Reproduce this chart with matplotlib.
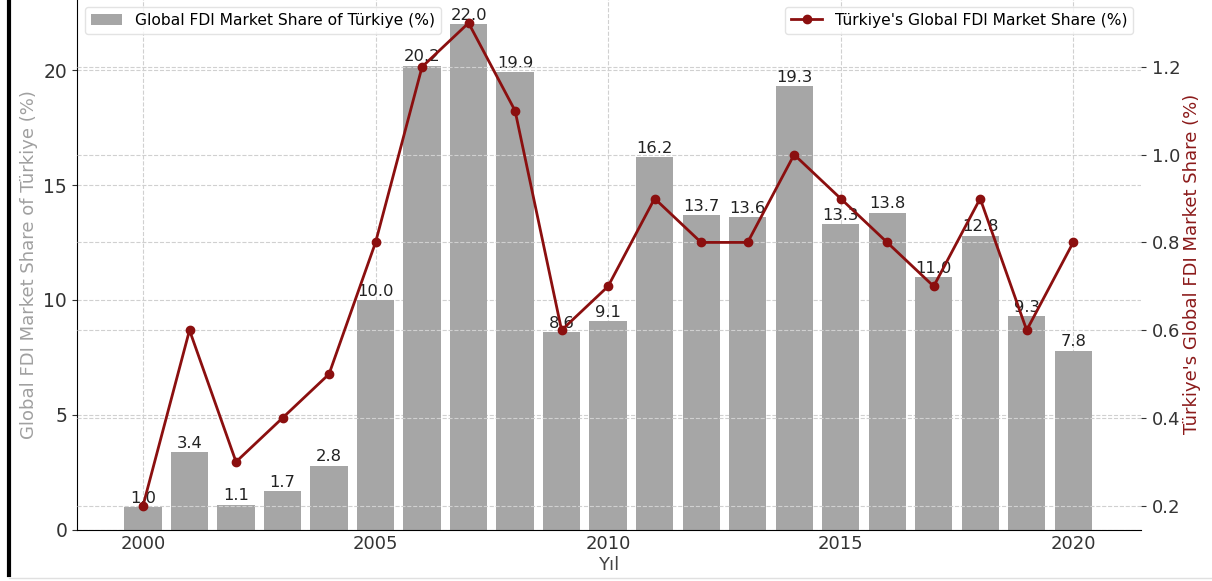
import matplotlib
matplotlib.use("Agg")
import matplotlib.pyplot as plt
from matplotlib.lines import Line2D

years = list(range(2000, 2021))
bar_values = [1.0, 3.4, 1.1, 1.7, 2.8, 10.0, 20.2, 22.0, 19.9, 8.6, 9.1,
              16.2, 13.7, 13.6, 19.3, 13.3, 13.8, 11.0, 12.8, 9.3, 7.8]
line_values = [0.2, 0.6, 0.3, 0.4, 0.5, 0.8, 1.2, 1.3, 1.1, 0.6, 0.7,
               0.9, 0.8, 0.8, 1.0, 0.9, 0.8, 0.7, 0.9, 0.6, 0.8]

bar_label = "Global FDI Market Share of Türkiye (%)"
line_label = "Türkiye's Global FDI Market Share (%)"

fig = plt.figure(figsize=(12.12, 5.81), dpi=100)
ax = fig.add_axes([0.0635, 0.088, 0.878, 0.914])
ax2 = ax.twinx()

ax.bar(years, bar_values, width=0.8, color="#a6a6a6", label=bar_label, zorder=2)
for x, v in zip(years, bar_values):
    ax.text(x, v + 0.05, f"{v:.1f}", ha="center", va="bottom", fontsize=11.8, color="#222222", zorder=5)

ax2.plot(years, line_values, color="#8b0f0f", marker="o", markersize=6, linewidth=2, label=line_label, zorder=3)

ax.set_xlim(1998.58, 2021.46)
ax.set_ylim(0, 23.1)
ax2.set_ylim(0.145, 1.355)
ax.set_xticks([2000, 2005, 2010, 2015, 2020])
ax.set_yticks([0, 5, 10, 15, 20])
ax2.set_yticks([0.2, 0.4, 0.6, 0.8, 1.0, 1.2])

ax.grid(True, linestyle="--", color="#d0d0d0", linewidth=0.8, zorder=0)
ax2.grid(True, axis="y", linestyle="--", color="#d0d0d0", linewidth=0.8)
ax.set_axisbelow(True)

for a in (ax, ax2):
    a.spines["top"].set_visible(False)
    a.spines["right"].set_visible(False)
ax2.spines["left"].set_visible(False)
ax2.spines["bottom"].set_visible(False)

ax.tick_params(axis="y", labelsize=13.5, colors="#333333", labelcolor="#333333")
ax.tick_params(axis="x", labelsize=13, direction="in", colors="#333333")
ax2.tick_params(axis="y", labelsize=13, colors="#333333", pad=4)

ax.set_xlabel("Yıl", fontsize=13, color="#444444", labelpad=2)
ax.set_ylabel(bar_label, fontsize=13, color="#a0a0a0")
ax2.set_ylabel(line_label, fontsize=13, color="#8b1a1a", labelpad=2)

ax.legend(loc="upper left", fontsize=11.2, frameon=True, edgecolor="#dddddd",
          borderaxespad=0.5, handlelength=2.0)
ax2.legend(loc="upper right", fontsize=11.2, frameon=True, edgecolor="#dddddd",
           borderaxespad=0.5, handlelength=2.0)

fig.add_artist(Line2D([0.0075, 0.0075], [0.01, 1.0], color="black", linewidth=3, transform=fig.transFigure))
fig.add_artist(Line2D([0.0075, 1.0], [0.006, 0.006], color="#e0e0e0", linewidth=1, transform=fig.transFigure))

fig.savefig("out.png", dpi=100)
